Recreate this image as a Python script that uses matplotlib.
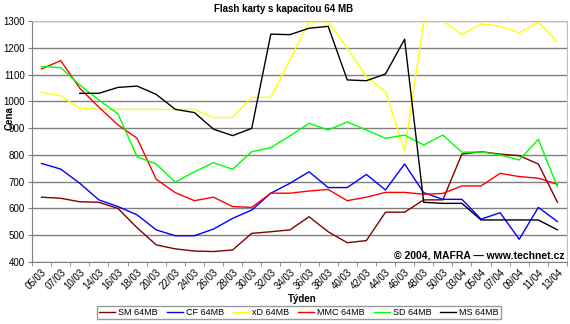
import numpy as np
import matplotlib
matplotlib.use("Agg")
import matplotlib.pyplot as plt

plt.rcParams['font.family'] = ['Liberation Sans', 'DejaVu Sans']

weeks = ["05/03", "07/03", "10/03", "14/03", "16/03", "18/03", "20/03", "22/03",
         "24/03", "26/03", "28/03", "30/03", "32/03", "34/03", "36/03", "38/03",
         "40/03", "42/03", "44/03", "46/03", "48/03", "50/03", "03/04", "05/04",
         "07/04", "09/04", "11/04", "13/04"]

sm = [642, 638, 625, 623, 600, 528, 464, 449, 441, 439, 445, 507, 513, 520,
      569, 513, 472, 480, 586, 586, 632, 632, 803, 812, 803, 797, 766, 623]
cf = [768, 747, 694, 632, 607, 576, 520, 498, 498, 523, 563, 594, 657, 694,
      737, 678, 678, 727, 669, 766, 659, 634, 634, 560, 584, 485, 604, 551]
xd = [1034, 1021, 974, 970, 970, 970, 970, 970, 970, 940, 940, 1015, 1015, 1155,
      1297, 1297, 1198, 1092, 1036, 815, 1297, 1300, 1250, 1289, 1281, 1256, 1296, 1220]
mmc = [1121, 1152, 1049, 978, 912, 862, 709, 659, 629, 642, 607, 604, 657, 657,
       665, 671, 629, 642, 660, 660, 653, 656, 684, 684, 731, 719, 713, 690]
sd = [1130, 1126, 1061, 1005, 953, 793, 766, 698, 737, 771, 746, 812, 827, 871,
      918, 893, 923, 893, 862, 874, 837, 874, 810, 811, 800, 781, 858, 681]
ms = [np.nan, np.nan, 1030, 1030, 1052, 1057, 1026, 970, 958, 896, 872, 899, 1251, 1249,
      1273, 1280, 1080, 1077, 1102, 1232, 623, 619, 619, 557, 557, 557, 557, 520]

series = [("SM 64MB", sm, "#800000"),
          ("CF 64MB", cf, "#0000ff"),
          ("xD 64MB", xd, "#ffff00"),
          ("MMC 64MB", mmc, "#ff0000"),
          ("SD 64MB", sd, "#00ff00"),
          ("MS 64MB", ms, "#000000")]

fig = plt.figure(figsize=(5.70, 3.24), dpi=100)
ax = fig.add_axes([32/570, 1 - 262/324, 535/570, 241/324])

x = np.arange(len(weeks))
for name, vals, col in series:
    ax.plot(x, vals, color=col, lw=1.0, label=name)

ax.set_xlim(-0.5, len(weeks) - 0.5)
ax.set_ylim(400, 1300)
ax.set_yticks(range(400, 1301, 100))
ax.yaxis.grid(True, color="#808080", lw=1.0)
ax.set_axisbelow(True)

ax.set_xticks(x)
ax.set_xticklabels(weeks, rotation=45, ha="right", va="top", rotation_mode="anchor")
ax.set_xticks(np.arange(-0.5, len(weeks)), minor=True)
ax.tick_params(axis="x", which="major", length=0, pad=4, labelsize=7)
ax.tick_params(axis="x", which="minor", length=3, color="#808080")
ax.tick_params(axis="y", length=3, color="#808080", labelsize=7, pad=2)

for s in ["left", "bottom"]:
    ax.spines[s].set_color("#808080")
for s in ["top", "right"]:
    ax.spines[s].set_color("#c0c0c0")

fig.text(284/570, 1 - 9/324, "Flash karty s kapacitou 64 MB", ha="center", va="center",
         fontsize=7, weight="bold")
fig.text(10/570, 1 - 118/324, "Cena", rotation=90, ha="center", va="center",
         fontsize=7, weight="bold")
fig.text(302/570, 1 - 299/324, "Týden", ha="center", va="center",
         fontsize=7, weight="bold")
fig.text(565/570, 1 - 256/324, "© 2004, MAFRA — www.technet.cz", ha="right", va="center",
         fontsize=7.5, weight="bold")

fig.legend(loc="center", bbox_to_anchor=(299/570, 1 - 312.5/324), ncol=6, fontsize=6.5,
           frameon=True, fancybox=False, edgecolor="#808080", handlelength=1.8,
           handletextpad=0.3, columnspacing=1.0, borderpad=0.2)

fig.savefig("out.png", dpi=100)
